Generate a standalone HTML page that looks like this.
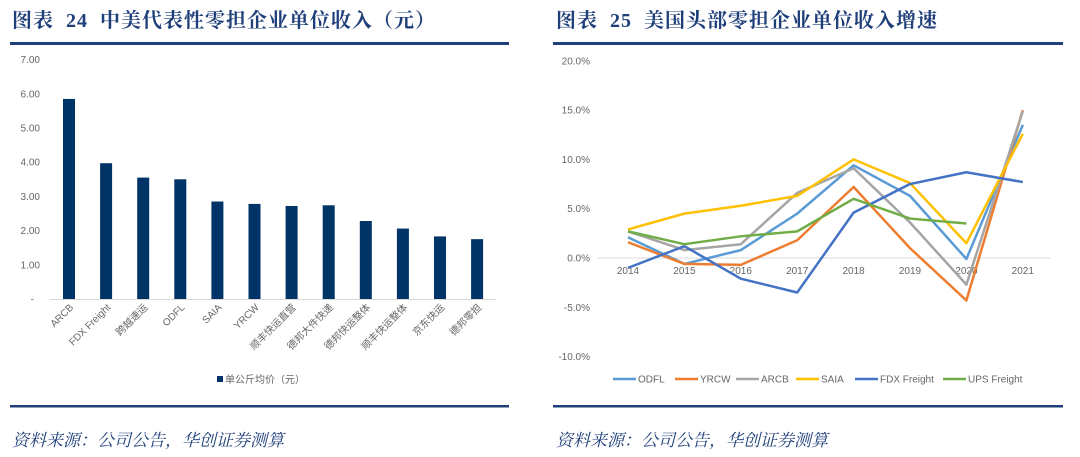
<!DOCTYPE html>
<html><head><meta charset="utf-8"><style>
body{margin:0;background:#fff;width:1080px;height:457px;overflow:hidden}
svg{display:block}
.t{font-family:"Liberation Serif","Noto Serif CJK SC",serif;font-weight:bold;font-size:20px;fill:#1f3f7a;letter-spacing:1px;white-space:pre}
.s{font-family:"Liberation Serif","Noto Serif CJK SC",serif;font-style:italic;font-size:17px;fill:#1f3f7a}
.ax{font-family:"Liberation Sans","Noto Sans CJK SC",sans-serif;font-size:10px;fill:#666}
</style></head><body>
<svg id="c" width="1080" height="457" xmlns="http://www.w3.org/2000/svg">
<text class="t" x="12" y="27">图表&#160;&#160;24&#160;&#160;中美代表性零担企业单位收入（元）</text>
<text class="t" x="556" y="27">图表&#160;&#160;25&#160;&#160;美国头部零担企业单位收入增速</text>
<rect x="10" y="42" width="499" height="3" fill="#1f3f7a"/>
<rect x="553" y="42" width="510" height="3" fill="#1f3f7a"/>
<rect x="10" y="405" width="499" height="2.5" fill="#1f3f7a"/>
<rect x="553" y="405" width="510" height="2.5" fill="#1f3f7a"/>
<text class="s" x="12" y="446">资料来源：公司公告，华创证券测算</text>
<text class="s" x="556" y="446">资料来源：公司公告，华创证券测算</text>
<g id="bar"></g><g id="line"></g>
</svg>
<script>
const barCats=["ARCB","FDX Freight","跨越速运","ODFL","SAIA","YRCW","顺丰快运直营","德邦大件快递","德邦快运整体","顺丰快运整体","京东快运","德邦零担"];
const barVals=[5.85,3.97,3.55,3.50,2.85,2.78,2.72,2.74,2.28,2.06,1.83,1.75];
const barTicks=["-","1.00","2.00","3.00","4.00","5.00","6.00","7.00"];
const years=["2014","2015","2016","2017","2018","2019","2020","2021"];
const sODFL=[2.1,-0.6,0.8,4.5,9.4,6.3,-0.1,13.5];
const sYRCW=[1.6,-0.6,-0.7,1.8,7.2,1.0,-4.3,15.0];
const sARCB=[2.7,0.8,1.4,6.6,9.1,3.6,-2.7,14.9];
const sSAIA=[2.9,4.5,5.3,6.3,10.0,7.6,1.5,12.6];
const sFDX=[-1.0,1.2,-2.1,-3.5,4.6,7.5,8.7,7.7];
const sUPS=[2.7,1.4,2.2,2.7,6.0,4.0,3.5,null];
const lineTicks=[-10,-5,0,5,10,15,20];
const NS="http://www.w3.org/2000/svg";
function mk(p,tag,a){const e=document.createElementNS(NS,tag);for(const k in a)e.setAttribute(k,a[k]);p.appendChild(e);return e;}
// bar chart
const bg=document.getElementById('bar');
const by=v=>299-v*34.2, bx=i=>69+i*37.1;
mk(bg,'line',{x1:50,x2:496,y1:299.5,y2:299.5,stroke:'#d9d9d9'});
barTicks.forEach((t,i)=>{const e=mk(bg,'text',{x:i?40:34,y:by(i)+3.5,'text-anchor':'end',class:'ax'});e.textContent=t;

});
barVals.forEach((v,i)=>{const r=mk(bg,'rect',{x:bx(i)-6,y:by(v),width:12,height:299-by(v),fill:'#003366'});


const t=mk(bg,'text',{x:bx(i)+5,y:308,'text-anchor':'end',class:'ax',transform:`rotate(-45 ${bx(i)+5} 308)`});t.textContent=barCats[i];

});
const lr=mk(bg,'rect',{x:217,y:376,width:6,height:6,fill:'#003366'});


const lt=mk(bg,'text',{x:225,y:383,class:'ax'});lt.textContent='单公斤均价（元）';


// line chart
const lg=document.getElementById('line');
const ly=v=>258-v*9.86, lx=i=>628+i*56.4;
mk(lg,'line',{x1:598,x2:1050,y1:258,y2:258,stroke:'#d9d9d9'});
lineTicks.forEach(t=>{const e=mk(lg,'text',{x:590,y:ly(t)+3.5,'text-anchor':'end',class:'ax'});e.textContent=t.toFixed(1)+'%';

});
years.forEach((y,i)=>{const e=mk(lg,'text',{x:lx(i),y:274,'text-anchor':'middle',class:'ax'});e.textContent=y;

});
const series=[["ODFL",sODFL,"#5b9bd5"],["YRCW",sYRCW,"#ed7d31"],["ARCB",sARCB,"#a5a5a5"],["SAIA",sSAIA,"#ffc000"],["FDX Freight",sFDX,"#4472c4"],["UPS Freight",sUPS,"#70ad47"]];
const legX=[613,675,736,796,855,943];
series.forEach(([n,d,c],k)=>{let pts=[];d.forEach((v,i)=>{if(v!==null)pts.push(lx(i)+','+ly(v));});
const p=mk(lg,'polyline',{points:pts.join(' '),fill:'none',stroke:c,'stroke-width':2.5,'stroke-linejoin':'round'});


const l=mk(lg,'line',{x1:legX[k],x2:legX[k]+23,y1:379,y2:379,stroke:c,'stroke-width':2.5});


const t=mk(lg,'text',{x:legX[k]+25,y:382.5,class:'ax'});t.textContent=n;

});
</script>
</body></html>
